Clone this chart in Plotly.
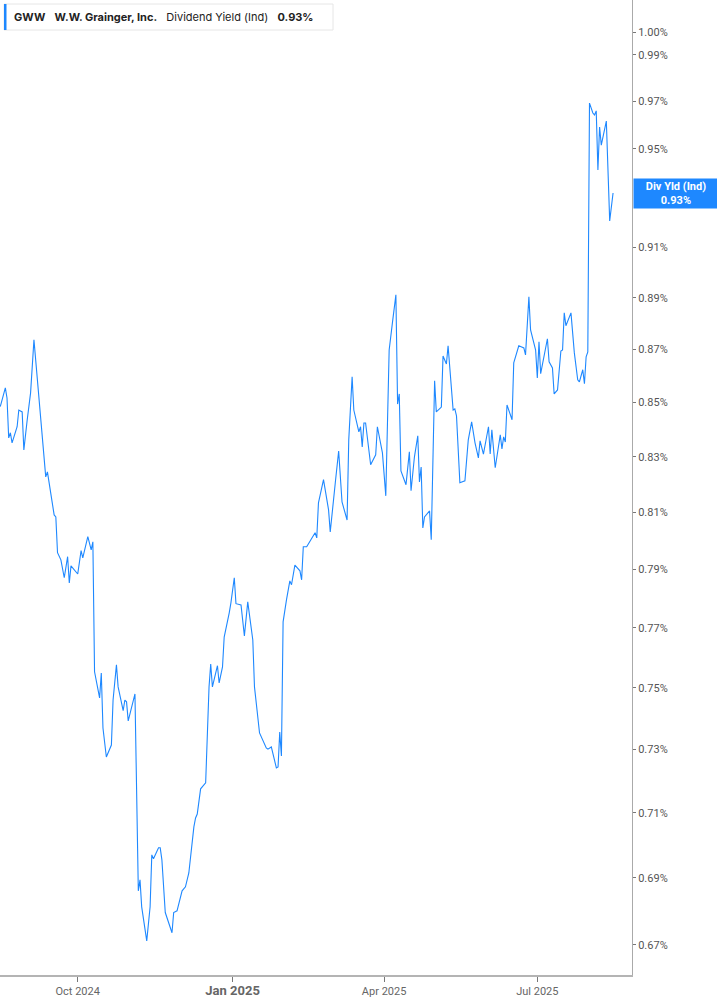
import plotly.graph_objects as go
import math

# ---- data ----
dates = [
    "2024-08-16", "2024-08-19", "2024-08-20", "2024-08-21", "2024-08-22", "2024-08-23",
    "2024-08-26", "2024-08-27", "2024-08-29", "2024-08-30", "2024-09-01", "2024-09-03",
    "2024-09-05", "2024-09-07", "2024-09-10", "2024-09-12", "2024-09-13", "2024-09-17",
    "2024-09-18", "2024-09-19", "2024-09-21", "2024-09-23", "2024-09-25", "2024-09-26",
    "2024-09-27", "2024-10-01", "2024-10-03", "2024-10-04", "2024-10-07", "2024-10-09",
    "2024-10-10", "2024-10-11", "2024-10-14", "2024-10-15", "2024-10-16", "2024-10-18",
    "2024-10-21", "2024-10-22", "2024-10-24", "2024-10-25", "2024-10-28", "2024-10-29",
    "2024-10-30", "2024-10-31", "2024-11-04", "2024-11-06", "2024-11-07", "2024-11-08",
    "2024-11-11", "2024-11-13", "2024-11-14", "2024-11-15", "2024-11-18", "2024-11-19",
    "2024-11-20", "2024-11-22", "2024-11-26", "2024-11-27", "2024-11-29", "2024-12-02",
    "2024-12-04", "2024-12-06", "2024-12-09", "2024-12-10", "2024-12-11", "2024-12-13",
    "2024-12-16", "2024-12-18", "2024-12-19", "2024-12-20", "2024-12-23", "2024-12-24",
    "2024-12-26", "2024-12-27", "2024-12-30", "2024-12-31", "2025-01-02", "2025-01-03",
    "2025-01-06", "2025-01-08", "2025-01-10", "2025-01-13", "2025-01-14", "2025-01-16",
    "2025-01-17", "2025-01-21", "2025-01-22", "2025-01-24", "2025-01-26", "2025-01-27",
    "2025-01-28", "2025-01-29", "2025-01-30", "2025-01-31", "2025-02-02", "2025-02-04",
    "2025-02-05", "2025-02-07", "2025-02-10", "2025-02-11", "2025-02-12", "2025-02-14",
    "2025-02-19", "2025-02-20", "2025-02-21", "2025-02-24", "2025-02-27", "2025-02-28",
    "2025-03-03", "2025-03-05", "2025-03-07", "2025-03-10", "2025-03-11", "2025-03-13",
    "2025-03-14", "2025-03-17", "2025-03-18", "2025-03-19", "2025-03-20", "2025-03-21",
    "2025-03-24", "2025-03-27", "2025-03-28", "2025-03-31", "2025-04-02", "2025-04-04",
    "2025-04-06", "2025-04-08", "2025-04-09", "2025-04-10", "2025-04-11", "2025-04-14",
    "2025-04-16", "2025-04-17", "2025-04-19", "2025-04-21", "2025-04-22", "2025-04-23",
    "2025-04-24", "2025-04-25", "2025-04-28", "2025-04-29", "2025-05-01", "2025-05-02",
    "2025-05-05", "2025-05-06", "2025-05-08", "2025-05-09", "2025-05-12", "2025-05-13",
    "2025-05-14", "2025-05-16", "2025-05-19", "2025-05-21", "2025-05-23", "2025-05-25",
    "2025-05-27", "2025-05-28", "2025-05-30", "2025-06-02", "2025-06-03", "2025-06-04",
    "2025-06-06", "2025-06-09", "2025-06-10", "2025-06-11", "2025-06-12", "2025-06-13",
    "2025-06-16", "2025-06-17", "2025-06-20", "2025-06-23", "2025-06-24", "2025-06-26",
    "2025-06-27", "2025-06-30", "2025-07-01", "2025-07-02", "2025-07-03", "2025-07-07",
    "2025-07-08", "2025-07-10", "2025-07-11", "2025-07-13", "2025-07-15", "2025-07-16",
    "2025-07-17", "2025-07-18", "2025-07-21", "2025-07-23", "2025-07-25", "2025-07-26",
    "2025-07-28", "2025-07-29", "2025-07-30", "2025-07-31", "2025-08-01", "2025-08-03",
    "2025-08-04", "2025-08-05", "2025-08-06", "2025-08-07", "2025-08-08", "2025-08-11",
    "2025-08-13", "2025-08-15",
]
div_yield = [
    0.8485, 0.8555, 0.8517, 0.8369, 0.8388, 0.8351,
    0.8410, 0.8472, 0.8465, 0.8325, 0.8436, 0.8536,
    0.8737, 0.8585, 0.8391, 0.8227, 0.8245, 0.8091,
    0.8084, 0.7958, 0.7933, 0.7871, 0.7944, 0.7853,
    0.7912, 0.7884, 0.7965, 0.7940, 0.8014, 0.7968,
    0.7996, 0.7553, 0.7467, 0.7549, 0.7369, 0.7276,
    0.7314, 0.7460, 0.7576, 0.7503, 0.7425, 0.7460,
    0.7454, 0.7392, 0.7480, 0.6861, 0.6894, 0.6813,
    0.6712, 0.6813, 0.6970, 0.6958, 0.6992, 0.6992,
    0.6955, 0.6796, 0.6736, 0.6796, 0.6801, 0.6861,
    0.6873, 0.6915, 0.7056, 0.7084, 0.7096, 0.7175,
    0.7194, 0.7503, 0.7579, 0.7503, 0.7573, 0.7516,
    0.7569, 0.7669, 0.7751, 0.7785, 0.7871, 0.7782,
    0.7778, 0.7673, 0.7788, 0.7659, 0.7503, 0.7386,
    0.7353, 0.7305, 0.7301, 0.7308, 0.7267, 0.7241,
    0.7244, 0.7356, 0.7279, 0.7720, 0.7795, 0.7860,
    0.7847, 0.7915, 0.7895, 0.7864, 0.7979, 0.7979,
    0.8028, 0.8010, 0.8134, 0.8217, 0.8109, 0.8031,
    0.8206, 0.8321, 0.8137, 0.8073, 0.8362, 0.8596,
    0.8472, 0.8391, 0.8410, 0.8336, 0.8424, 0.8424,
    0.8271, 0.8307, 0.8410, 0.8314, 0.8159, 0.8698,
    0.8806, 0.8911, 0.8494, 0.8532, 0.8249, 0.8199,
    0.8318, 0.8177, 0.8299, 0.8377, 0.8209, 0.8263,
    0.8045, 0.8084, 0.8105, 0.8003, 0.8581, 0.8465,
    0.8483, 0.8675, 0.8645, 0.8714, 0.8472, 0.8476,
    0.8450, 0.8206, 0.8213, 0.8362, 0.8428, 0.8351,
    0.8296, 0.8358, 0.8310, 0.8410, 0.8310, 0.8399,
    0.8260, 0.8380, 0.8329, 0.8373, 0.8354, 0.8491,
    0.8436, 0.8649, 0.8714, 0.8706, 0.8679, 0.8903,
    0.8775, 0.8698, 0.8592, 0.8729, 0.8608, 0.8741,
    0.8653, 0.8630, 0.8532, 0.8547, 0.8694, 0.8698,
    0.8841, 0.8791, 0.8841, 0.8687, 0.8585, 0.8577,
    0.8623, 0.8570, 0.8672, 0.8691, 0.9693, 0.9651,
    0.9643, 0.9660, 0.9413, 0.9592, 0.9516, 0.9617,
    0.9205, 0.9318,
]
# 0.93% sits under the value tag in the reference, so it is not drawn
y_ticks = [0.67, 0.69, 0.71, 0.73, 0.75, 0.77, 0.79, 0.81, 0.83, 0.85, 0.87,
           0.89, 0.91, 0.95, 0.97, 0.99, 1.00]
y_tick_labels = [f"{v:.2f}%" for v in y_ticks]
x_ticks = ["2024-10-01", "2025-01-01", "2025-04-01", "2025-07-01"]
x_tick_labels = ["Oct 2024", "<b><span style='font-size:13px'>Jan 2025</span></b>",
                 "Apr 2025", "Jul 2025"]
last_value = div_yield[-1]

BLUE = "#1e88ff"

fig = go.Figure()
fig.add_trace(go.Scatter(
    x=dates, y=div_yield, mode="lines",
    line=dict(color=BLUE, width=1.1),
    hoverinfo="skip", showlegend=False,
))

fig.update_layout(
    width=717, height=1005,
    margin=dict(l=0, r=85, t=0, b=30),
    paper_bgcolor="white", plot_bgcolor="white",
    font=dict(family="Inter, Roboto, sans-serif", color="#555"),
    xaxis=dict(
        range=["2024-08-15 20:00", "2025-08-26 06:00"],
        tickvals=x_ticks, ticktext=x_tick_labels,
        ticks="outside", ticklen=5, tickcolor="#777", tickwidth=1,
        showline=True, linecolor="#b4b4b4", linewidth=2,
        showgrid=False, zeroline=False,
        tickfont=dict(size=11, color="#666", family="Roboto, sans-serif"),
    ),
    yaxis=dict(
        type="log", side="right",
        range=[-0.17965, 0.0061],
        tickvals=y_ticks, ticktext=y_tick_labels,
        ticks="outside", ticklen=3, tickcolor="#777", tickwidth=1,
        showline=True, linecolor="#aaaaaa", linewidth=1,
        showgrid=False, zeroline=False,
        tickfont=dict(size=11, color="#555", family="Roboto, sans-serif"),
    ),
)

# current-value tag on the right axis
fig.add_annotation(
    xref="paper", yref="y", x=1.0, y=math.log10(last_value),
    xanchor="left", yanchor="middle",
    text=f"<b>Div Yld (Ind)<br>{last_value:.2f}%</b>",
    showarrow=False, align="center",
    font=dict(size=11, color="white", family="Roboto, sans-serif"),
    bgcolor=BLUE, width=82, height=27, borderpad=1, xshift=1,
)

# legend box in the top-left corner
fig.add_shape(
    type="rect", xref="paper", yref="paper",
    x0=4 / 632, x1=333 / 632, y0=1 - 30 / 975, y1=1 - 4 / 975,
    line=dict(color="#e6e6e6", width=1), fillcolor="white", layer="above",
)
fig.add_shape(
    type="rect", xref="paper", yref="paper",
    x0=4 / 632, x1=6.5 / 632, y0=1 - 30 / 975, y1=1 - 4 / 975,
    line=dict(width=0), fillcolor=BLUE, layer="above",
)
fig.add_annotation(
    xref="paper", yref="paper", x=12 / 632, y=1 - 17 / 975,
    xanchor="left", yanchor="middle", showarrow=False,
    text=(f"<b>GWW</b>   <b>W.W. Grainger, Inc.</b>   Dividend Yield (Ind)   "
          f"<b>{last_value:.2f}%</b>"),
    font=dict(size=11, color="#222", family="Inter, Roboto, sans-serif"),
)

fig.write_html("out.html", config={"displayModeBar": False},
               post_script="document.body.style.margin='0';")
